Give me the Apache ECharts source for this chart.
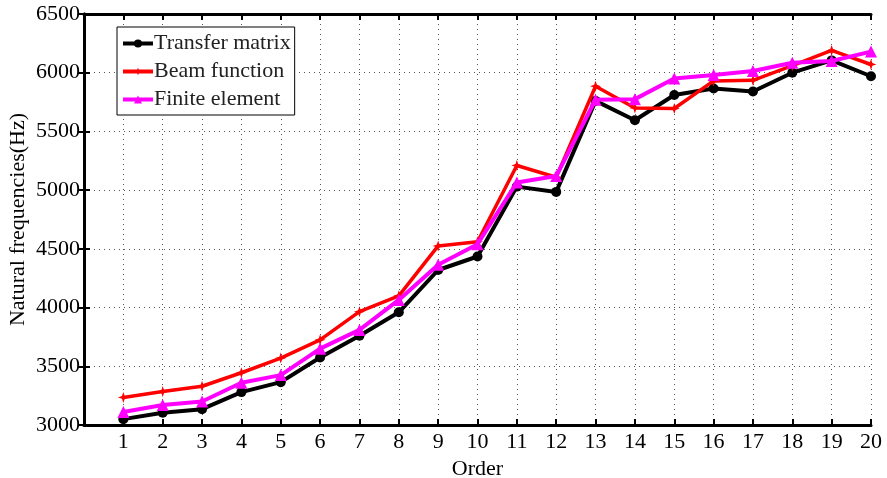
<!DOCTYPE html>
<html>
<head>
<meta charset="utf-8">
<script src="https://cdn.jsdelivr.net/npm/echarts@6/dist/echarts.min.js"></script>
<style>
  html, body { margin: 0; padding: 0; background: #fff; }
  #chart { width: 887px; height: 478px; }
</style>
</head>
<body>
<div id="chart"></div>
<script>
// chart data
const orders = [1, 2, 3, 4, 5, 6, 7, 8, 9, 10, 11, 12, 13, 14, 15, 16, 17, 18, 19, 20]
const transferMatrix = [3050, 3105, 3135, 3280, 3365, 3575, 3760, 3960, 4320, 4435, 5030, 4985, 5760, 5595, 5810, 5865, 5840, 6000, 6105, 5970]
const beamFunction = [3235, 3285, 3330, 3445, 3570, 3725, 3965, 4100, 4525, 4560, 5210, 5110, 5885, 5700, 5695, 5930, 5935, 6060, 6190, 6070]
const finiteElement = [3110, 3170, 3200, 3360, 3425, 3650, 3810, 4065, 4365, 4540, 5065, 5120, 5770, 5775, 5950, 5980, 6015, 6085, 6100, 6180]
const yTicks = [3000, 3500, 4000, 4500, 5000, 5500, 6000, 6500]

const font = 'Liberation Serif'
const pairs = vals => orders.map((o, i) => [o, vals[i]])

const myChart = echarts.init(document.getElementById('chart'))
myChart.setOption({
  animation: false,
  textStyle: { fontFamily: font, color: '#000' },
  grid: { left: 84, right: 16, top: 14, bottom: 53, outerBoundsMode: 'none', containLabel: false },
  legend: {
    orient: 'vertical',
    left: 117,
    top: 27,
    padding: [5, 4, 4, 4],
    itemGap: 5,
    itemWidth: 30,
    itemHeight: 10,
    backgroundColor: '#fff',
    borderColor: '#000',
    borderWidth: 1,
    lineStyle: { width: 4 },
    textStyle: { fontFamily: font, fontSize: 22, lineHeight: 23, color: '#222', padding: [0, 0, 0, -4] },
    data: ['Transfer matrix', 'Beam function', 'Finite element']
  },
  xAxis: [
    {
      type: 'value',
      min: 0,
      max: 20,
      interval: 1,
      name: 'Order',
      nameLocation: 'middle',
      nameGap: 33,
      nameTextStyle: { fontFamily: font, fontSize: 22, color: '#000' },
      axisLine: { lineStyle: { color: '#000', width: 3 } },
      axisTick: { inside: true, length: 6, lineStyle: { color: '#000', width: 2 } },
      axisLabel: {
        fontFamily: font, fontSize: 22, color: '#000', margin: 6,
        formatter: v => (v === 0 ? '' : v)
      },
      splitLine: { show: true, lineStyle: { color: '#555', type: [1, 4], width: 1 } }
    },
    {
      type: 'value',
      position: 'top',
      min: 0,
      max: 20,
      interval: 1,
      axisLine: { show: true, lineStyle: { color: '#000', width: 3 } },
      axisTick: { show: true, inside: true, length: 6, lineStyle: { color: '#000', width: 2 } },
      axisLabel: { show: false },
      splitLine: { show: false }
    }
  ],
  yAxis: [
    {
      type: 'value',
      min: 3000,
      max: 6500,
      interval: 500,
      name: 'Natural frequencies(Hz)',
      nameLocation: 'middle',
      nameGap: 55,
      nameMoveOverlap: false,
      nameTextStyle: { fontFamily: font, fontSize: 22, color: '#000' },
      axisLine: { show: true, lineStyle: { color: '#000', width: 3 } },
      axisTick: { show: true, inside: true, length: 6, lineStyle: { color: '#000', width: 2 } },
      axisLabel: {
        fontFamily: font, fontSize: 22, color: '#000', margin: 4,
        formatter: v => (yTicks.includes(v) ? v : '')
      },
      splitLine: { show: true, lineStyle: { color: '#555', type: [1, 4], width: 1 } }
    },
    {
      type: 'value',
      position: 'right',
      min: 3000,
      max: 6500,
      interval: 500,
      axisLine: { show: true, lineStyle: { color: '#000', width: 3 } },
      axisTick: { show: true, inside: true, length: 6, lineStyle: { color: '#000', width: 2 } },
      axisLabel: { show: false },
      splitLine: { show: false }
    }
  ],
  series: [
    {
      name: 'Transfer matrix',
      type: 'line',
      data: pairs(transferMatrix),
      symbol: 'circle',
      symbolSize: 10,
      itemStyle: { color: '#000' },
      lineStyle: { color: '#000', width: 4 },
      z: 3
    },
    {
      name: 'Beam function',
      type: 'line',
      data: pairs(beamFunction),
      symbol: 'path://M0,-10 L2.5,-2.5 L10,0 L2.5,2.5 L0,10 L-2.5,2.5 L-10,0 L-2.5,-2.5 Z',
      symbolSize: 11,
      itemStyle: { color: '#ff0000' },
      lineStyle: { color: '#ff0000', width: 3.5 },
      z: 4
    },
    {
      name: 'Finite element',
      type: 'line',
      data: pairs(finiteElement),
      symbol: 'triangle',
      symbolSize: 12,
      itemStyle: { color: '#ff00ff' },
      lineStyle: { color: '#ff00ff', width: 4 },
      z: 5
    }
  ]
})
window.onresize = function() {
  myChart.resize()
}
</script>
</body>
</html>
